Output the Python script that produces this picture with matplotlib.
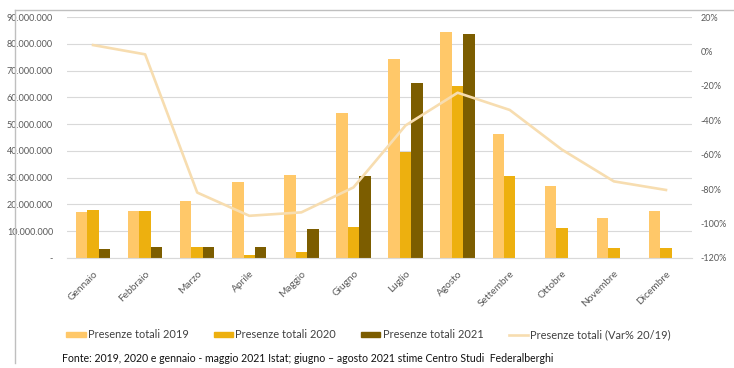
import matplotlib
matplotlib.use("Agg")
import matplotlib.pyplot as plt
import numpy as np
from matplotlib.patches import Patch
from matplotlib.lines import Line2D
from matplotlib.ticker import FuncFormatter, MultipleLocator

months = ["Gennaio", "Febbraio", "Marzo", "Aprile", "Maggio", "Giugno",
          "Luglio", "Agosto", "Settembre", "Ottobre", "Novembre", "Dicembre"]
pres_2019 = [17.2e6, 17.7e6, 21.3e6, 28.5e6, 31.0e6, 54.0e6,
             74.3e6, 84.5e6, 46.2e6, 27.0e6, 15.0e6, 17.5e6]
pres_2020 = [17.9e6, 17.5e6, 4.1e6, 1.1e6, 2.1e6, 11.5e6,
             39.7e6, 64.2e6, 30.6e6, 11.3e6, 3.6e6, 3.6e6]
pres_2021 = [3.3e6, 4.2e6, 4.1e6, 4.2e6, 10.8e6, 30.7e6,
             65.2e6, 83.5e6]
var_20_19 = [0.037, -0.017, -0.82, -0.955, -0.935, -0.79,
             -0.43, -0.24, -0.34, -0.57, -0.755, -0.805]

labels = ["Presenze totali 2019", "Presenze totali 2020",
          "Presenze totali 2021", "Presenze totali (Var% 20/19)"]
c19, c20, c21, cl = "#FFC869", "#EDB00F", "#7C5D00", "#F7DDB0"

plt.rcParams['font.family'] = ['Lato', 'DejaVu Sans']
fig = plt.figure(figsize=(7.34, 3.68), dpi=100)
ax = fig.add_axes([0.0913, 0.299, 0.8515, 0.6548])
ax2 = ax.twinx()

x = np.arange(len(months))
w = 0.22
ax.bar(x - w, pres_2019, w, color=c19, zorder=2)
ax.bar(x, pres_2020, w, color=c20, zorder=2)
ax.bar(np.arange(len(pres_2021)) + w, pres_2021, w, color=c21, zorder=2)
ax2.plot(x, var_20_19, color=cl, lw=1.9, zorder=3)

ax.set_xlim(-0.5, len(months) - 0.5)
ax.set_ylim(0, 90e6)
ax.yaxis.set_major_locator(MultipleLocator(10e6))
ax.yaxis.set_major_formatter(FuncFormatter(
    lambda v, p: "-" if v == 0 else f"{int(round(v)):,}".replace(",", ".")))
ax2.set_ylim(-1.2, 0.2)
ax2.yaxis.set_major_locator(MultipleLocator(0.2))
ax2.yaxis.set_major_formatter(FuncFormatter(lambda v, p: f"{round(v*100):d}%"))

ax.grid(axis='y', color="#D9D9D9", lw=0.8, zorder=0)
ax.set_axisbelow(True)
for a in (ax, ax2):
    for s in a.spines.values():
        s.set_visible(False)
ax.spines['bottom'].set_visible(True)
ax.spines['bottom'].set_color("#D9D9D9")
ax.tick_params(axis='y', length=0, labelsize=6.5, labelcolor="#595959", pad=10)
ax2.tick_params(axis='y', length=0, labelsize=6.5, labelcolor="#595959", pad=6)
ax.set_xticks(x)
ax.set_xticklabels(months, rotation=45, ha='right', rotation_mode='anchor',
                   fontsize=7.3, color="#595959")
ax.tick_params(axis='x', length=0, pad=8)

handles = [Patch(color=c19), Patch(color=c20), Patch(color=c21),
           Line2D([0], [0], color=cl, lw=1.9)]
fig.legend(handles, labels, loc='center', bbox_to_anchor=(0.502, 0.09), ncol=4,
           frameon=False, fontsize=7.9, handlelength=1.75, handleheight=0.45,
           columnspacing=2.3, handletextpad=0.2, labelcolor="#404040")

fig.text(0.084, 0.027, "Fonte: 2019, 2020 e gennaio - maggio 2021 Istat; giugno \u2013 agosto 2021 stime Centro Studi  Federalberghi",
         fontsize=7.6, color="#111111", ha='left', va='center')

fig.add_artist(Line2D([0.0204, 1.0], [0.973, 0.973], color="#BFBFBF", lw=1,
                      transform=fig.transFigure))
fig.add_artist(Line2D([0.0204, 0.0204], [0.0136, 0.973], color="#BFBFBF", lw=1,
                      transform=fig.transFigure))

fig.savefig("out.png", dpi=100)
